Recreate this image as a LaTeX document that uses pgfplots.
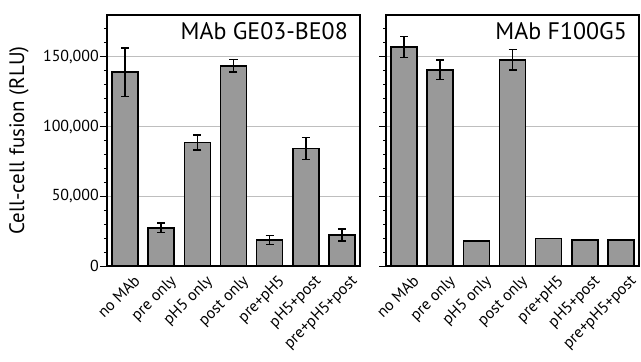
\documentclass[border=0pt]{standalone}
\usepackage{fontspec}
\setmainfont{PT Sans}
\usepackage{pgfplots}
\pgfplotsset{compat=1.18}
\usepackage{pgfplotstable}
\definecolor{barfill}{RGB}{153,153,153}
\definecolor{gridc}{RGB}{190,190,190}

\pgfplotstableread{
x y e
0 139000 17500
1 27400 3300
2 88600 5500
3 143600 4500
4 18600 3300
5 84300 7800
6 22100 4300
}\tableA
\pgfplotstableread{
x y e
0 156900 7500
1 140700 7000
2 18100 0
3 147900 7500
4 19800 0
5 18800 0
6 18800 0
}\tableB

\pgfplotsset{
 panel/.style={
  scale only axis, width=253bp, height=251bp, clip=false,
  xmin=-0.5, xmax=6.5, ymin=0, ymax=180000,
  axis line style={line width=1.6pt},
  xtick={0,...,6},
  xticklabels={no MAb, pre only, pH5 only, post only, pre+pH5, pH5+post, pre+pH5+post},
  xticklabel style={rotate=45, anchor=north east, font=\fontsize{16}{16}\selectfont, inner sep=0pt, xshift=5bp, yshift=-6bp},
  x tick style={draw=none},
  ytick={0,50000,100000,150000},
  minor ytick={10000,20000,...,170000},
  ytick pos=left, tick align=outside,
  major tick length=7bp, minor tick length=3bp,
  ymajorgrids, grid style={line width=1.2pt, gridc},
  y tick style={line width=1pt, black},
  scaled y ticks=false,
  /pgf/number format/1000 sep={,},
  /pgf/number format/fixed,
  /pgf/number format/assume math mode=true,
  yticklabel style={font=\fontsize{16}{16}\selectfont, inner sep=1pt},
  ybar, bar width=0.72,
 },
 mybar/.style={fill=barfill, draw=black, line width=1.6pt,
  error bars/.cd, y dir=both, y explicit,
  error bar style={line width=1.5pt, black},
  error mark options={rotate=90, mark size=4bp, line width=1.5pt, black}},
}

\begin{document}
\begin{tikzpicture}
\path[use as bounding box] (0,0) rectangle (641bp,362bp);
\begin{axis}[panel, at={(107bp,96bp)}, anchor=south west]
\addplot[mybar] table[x=x, y=y, y error=e] {\tableA};
\node[anchor=north east, font=\fontsize{24}{24}\selectfont, inner sep=0pt] at ([xshift=-12bp,yshift=-7bp]rel axis cs:1,1) {MAb GE03-BE08};
\node[rotate=90, font=\fontsize{21}{21}\selectfont] at ([xshift=-88bp]rel axis cs:0,0.5) {Cell-cell fusion (RLU)};
\end{axis}
\begin{axis}[panel, at={(386bp,96bp)}, anchor=south west, yticklabels={,,,,}]
\addplot[mybar] table[x=x, y=y, y error=e] {\tableB};
\node[anchor=north east, font=\fontsize{24}{24}\selectfont, inner sep=0pt] at ([xshift=-12bp,yshift=-7bp]rel axis cs:1,1) {MAb F100G5};
\end{axis}
\end{tikzpicture}
\end{document}
